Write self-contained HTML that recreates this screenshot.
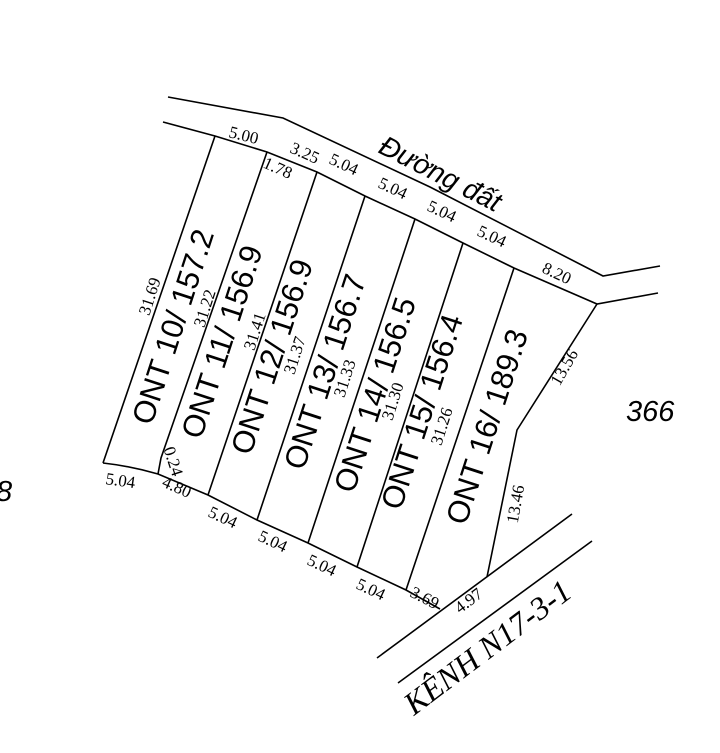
<!DOCTYPE html>
<html><head><meta charset="utf-8"><style>
html,body{margin:0;padding:0;background:#fff;}
svg{display:block;}
.d{font-family:"Liberation Serif",serif;font-size:17px;fill:#000;}
.l{font-family:"Liberation Sans",sans-serif;font-size:31px;fill:#000;}
</style></head><body>
<svg width="720" height="753" viewBox="0 0 720 753" xmlns="http://www.w3.org/2000/svg">
<g fill="none" stroke="#000" stroke-width="1.6">
<polyline points="168,97 283,118 430,187 603,276 660,266"/>
<polyline points="163,122 215,136 267,152 317,172 365,196 415,219 463,243 514,268 597,304 658,293"/>
<line x1="215" y1="136" x2="103" y2="463"/>
<polyline points="267,152 161,458 158,474"/>
<line x1="317" y1="172" x2="208" y2="495"/>
<line x1="365" y1="196" x2="257" y2="520"/>
<line x1="415" y1="219" x2="308" y2="543"/>
<line x1="463" y1="243" x2="357" y2="567"/>
<line x1="514" y1="268" x2="406" y2="590"/>
<polyline points="597,304 517,430 487,577"/>
<path d="M103,463 Q130,466 158,474 L208,495 257,520 308,543 357,567 406,590 440,609"/>
<line x1="377" y1="658" x2="572" y2="514"/>
<line x1="398" y1="683" x2="592" y2="541"/>
</g>
<text class="d" transform="translate(228,137) rotate(14)">5.00</text>
<text class="d" transform="translate(289,152) rotate(24)">3.25</text>
<text class="d" transform="translate(262,167) rotate(24)">1.78</text>
<text class="d" transform="translate(328,163) rotate(25)">5.04</text>
<text class="d" transform="translate(377,187) rotate(25)">5.04</text>
<text class="d" transform="translate(426,210) rotate(25)">5.04</text>
<text class="d" transform="translate(476,235) rotate(25)">5.04</text>
<text class="d" transform="translate(541,272) rotate(25)">8.20</text>
<text class="d" transform="translate(105,484) rotate(8)">5.04</text>
<text class="d" transform="translate(161,486) rotate(24)">4.80</text>
<text class="d" transform="translate(207,516) rotate(25)">5.04</text>
<text class="d" transform="translate(257,540) rotate(25)">5.04</text>
<text class="d" transform="translate(306,564) rotate(25)">5.04</text>
<text class="d" transform="translate(355,588) rotate(25)">5.04</text>
<text class="d" transform="translate(409,596) rotate(27)">3.69</text>
<text class="d" transform="translate(460,614) rotate(-37)">4.97</text>
<text class="d" text-anchor="middle" transform="translate(155,298) rotate(-72)">31.69</text>
<text class="d" text-anchor="middle" transform="translate(210,310) rotate(-72)">31.22</text>
<text class="d" text-anchor="middle" transform="translate(260,333) rotate(-72)">31.41</text>
<text class="d" text-anchor="middle" transform="translate(300,357) rotate(-72)">31.37</text>
<text class="d" text-anchor="middle" transform="translate(350,380) rotate(-72)">31.33</text>
<text class="d" text-anchor="middle" transform="translate(398,403) rotate(-72)">31.30</text>
<text class="d" text-anchor="middle" transform="translate(447,428) rotate(-72)">31.26</text>
<text class="d" text-anchor="middle" transform="translate(168,463) rotate(72)">0.24</text>
<text class="d" text-anchor="middle" transform="translate(569,370) rotate(-60)">13.56</text>
<text class="d" text-anchor="middle" transform="translate(521,505) rotate(-80)">13.46</text>
<g class="l" text-anchor="middle">
<text transform="translate(183,330) rotate(-72)">ONT 10/ 157.2</text>
<text transform="translate(232,345) rotate(-72)">ONT 11/ 156.9</text>
<text transform="translate(282,360) rotate(-72)">ONT 12/ 156.9</text>
<text transform="translate(335,375) rotate(-72)">ONT 13/ 156.7</text>
<text transform="translate(385,398) rotate(-72)">ONT 14/ 156.5</text>
<text transform="translate(432,415) rotate(-72)">ONT 15/ 156.4</text>
<text transform="translate(497,430) rotate(-72)">ONT 16/ 189.3</text>
</g>
<text transform="translate(377,152) rotate(27)" style="font-family:'Liberation Sans',sans-serif;font-size:28px;font-style:italic">Đường đất</text>
<text x="626" y="421" style="font-family:'Liberation Sans',sans-serif;font-size:29px;font-style:italic">366</text>
<text x="-4" y="501" style="font-family:'Liberation Sans',sans-serif;font-size:29px;font-style:italic">8</text>
<text transform="translate(414,716) rotate(-37)" style="font-family:'Liberation Serif',serif;font-size:32px;font-style:italic">KÊNH N17-3-1</text>
</svg>
</body></html>
